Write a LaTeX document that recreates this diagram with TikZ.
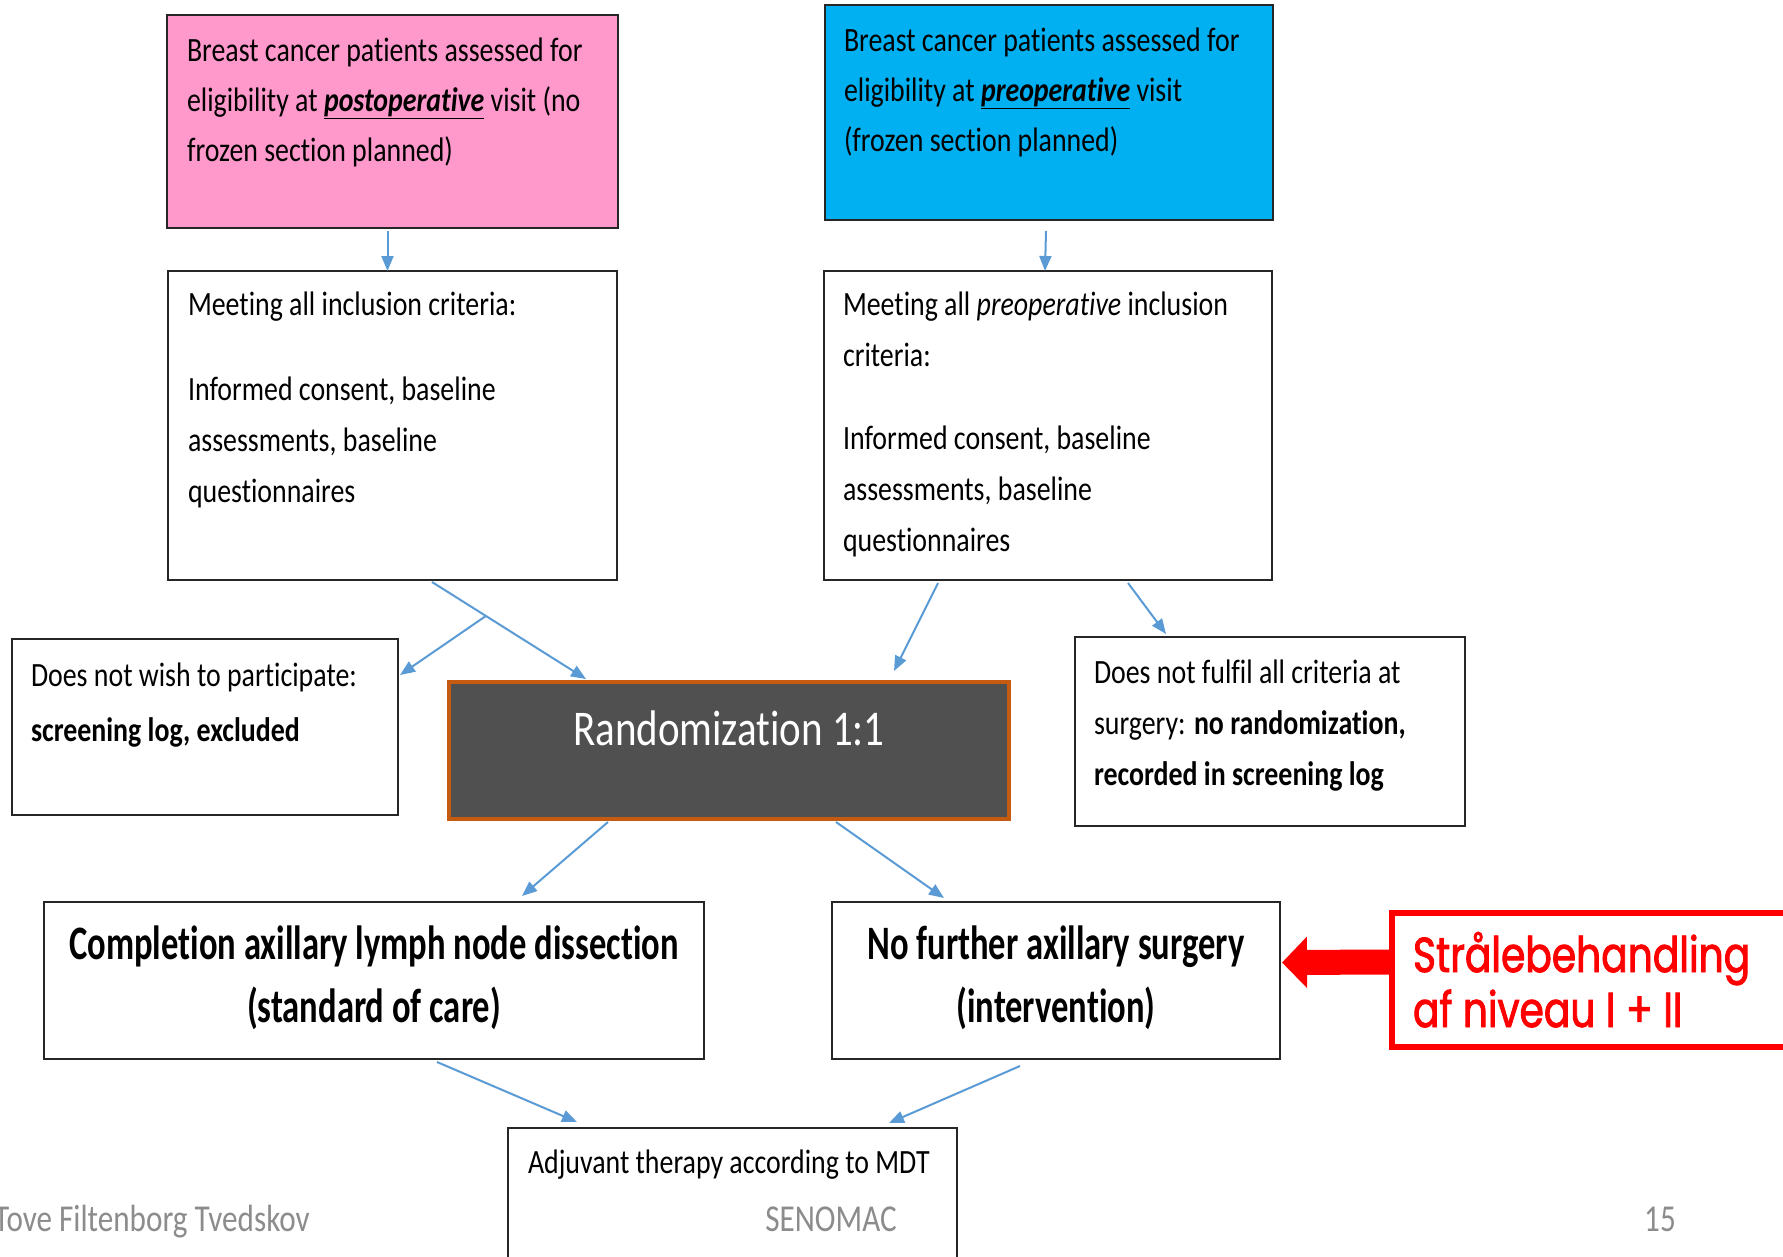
\documentclass[tikz,border=0pt]{standalone}
\usepackage{fontspec}
\setmainfont{Carlito}[FakeStretch=0.82, Ligatures=NoCommon]
\newfontfamily\boldcond{Carlito}[FakeStretch=0.72, Ligatures=NoCommon]
\newfontfamily\redfont{Poppins}[FakeStretch=0.80, FakeBold=1.8]
\usetikzlibrary{arrows.meta,calc}
\definecolor{pinkfill}{HTML}{FF99CC}
\definecolor{bluefill}{HTML}{00B0F0}
\definecolor{randfill}{HTML}{505050}
\definecolor{randedge}{HTML}{C55A11}
\definecolor{arrowblue}{HTML}{5B9BD5}
\definecolor{footgray}{HTML}{8C8C8C}
\definecolor{slidered}{HTML}{FF0000}
% #1 text width, #2 height, #3 first baseline offset, #4 text
\newcommand\tb[4]{\parbox[c][#2pt][t]{#1pt}{\raggedright\rule{0pt}{#3pt}#4}}
\newcommand\tc[4]{\parbox[c][#2pt][t]{#1pt}{\centering\rule{0pt}{#3pt}#4}}
\tikzset{
  flow/.style={draw=black!85, line width=2pt, anchor=north west, inner xsep=#1,
    inner ysep=0pt, outer sep=0pt, font=\fontsize{34}{51}\selectfont},
  flow/.default=20pt,
  link/.style={draw=arrowblue, line width=2pt, -{Triangle[length=15pt 0 0,width=12pt 0 0]}},
  foot/.style={inner sep=0pt, text=footgray, font=\fontsize{38}{40}\selectfont},
}
\begin{document}
\begin{tikzpicture}[x=1pt,y=-1pt]
\fill[white] (0,0) rectangle (1783,1256);
\useasboundingbox (0,0) rectangle (1783,1256);
\clip (0,0) rectangle (1783,1256);

% top boxes
\node[flow, fill=pinkfill, font=\fontsize{34}{50}\selectfont] (pink) at (167,15)
  {\tb{411}{213}{46}{Breast cancer patients assessed for\\
   eligibility at \textbf{\textit{\underline{postoperative}}} visit (no\\
   frozen section planned)}};
\node[flow=19pt, fill=bluefill, font=\fontsize{34}{50}\selectfont] (blue) at (825,5)
  {\tb{410}{215}{46}{Breast cancer patients assessed for\\
   eligibility at \textbf{\textit{\underline{preoperative}}} visit\\
   (frozen section planned)}};

% criteria boxes
\node[flow] (lcrit) at (168,271)
  {\tb{409}{309}{44}{Meeting all inclusion criteria:\\[34pt]
   Informed consent, baseline\\ assessments, baseline\\ questionnaires}};
\node[flow=19pt] (rcrit) at (824,271)
  {\tb{410}{309}{44}{Meeting all \textit{preoperative} inclusion\\ criteria:\\[32pt]
   Informed consent, baseline\\ assessments, baseline\\ questionnaires}};

% side boxes
\node[flow=19pt, font=\fontsize{34}{55}\selectfont] (dnw) at (12,639)
  {\tb{348}{176}{47}{Does not wish to participate:\\
   \textbf{screening log, excluded}}};
\node[flow=19pt] (dnf) at (1075,637)
  {\tb{352}{189}{46}{Does not fulfil all criteria at\\
   surgery: \textbf{no randomization,}\\ \textbf{recorded in screening log}}};

% randomization
\node[flow=0pt, draw=randedge, line width=4pt, fill=randfill, text=white,
  font=\fontsize{50}{55}\selectfont] (rand) at (449,682)
  {\tc{560}{137}{63}{Randomization 1:1}};

% arms
\node[flow=0pt, font=\boldcond\bfseries\fontsize{48}{63}\selectfont] (comp) at (44,902)
  {\tc{660}{157}{57}{Completion axillary lymph node dissection\\ (standard of care)}};
\node[flow=0pt, font=\boldcond\bfseries\fontsize{48}{63}\selectfont] (nofur) at (832,902)
  {\tc{448}{157}{57}{No further axillary surgery\\ (intervention)}};

% adjuvant
\node[flow] (adj) at (508,1128)
  {\tb{409}{200}{45}{Adjuvant therapy according to MDT}};

% red box
\node[flow=21pt, draw=slidered, line width=6pt, text=slidered,
  font=\redfont\fontsize{49}{55}\selectfont] (redbox) at (1392,913)
  {\tb{480}{134}{59}{Strålebehandling\\ af niveau I + II}};

% footer
\node[foot, anchor=base east] (author) at (310,1231) {Tove Filtenborg Tvedskov};
\node[foot, anchor=base] (title) at (831,1231) {SENOMAC};
\node[foot, anchor=base] (pageno) at (1660,1231) {15};

% connectors
\draw[link] ($(pink.south)+(-5,3)$) -- ($(lcrit.north)+(-5,0)$);
\draw[link] ($(blue.south)+(-3,11)$) -- ($(rcrit.north)+(-3,0)$);

\coordinate (ls) at ($(lcrit.south west)+(264,2)$);
\coordinate (le) at ($(rand.north west)+(137,-3)$);
\coordinate (lm) at ($(ls)!0.35!(le)$);
\draw[link] (ls) -- (le);
\draw[link] (lm) -- ($(dnw.north east)+(2,36)$);

\draw[link] ($(rcrit.south west)+(114,3)$) -- ($(rand.north west)+(445,-11)$);
\draw[link] ($(rcrit.south west)+(304,3)$) -- ($(dnf.north west)+(91,-3)$);
\draw[link] ($(rand.south west)+(159,3)$) -- ($(comp.north west)+(478,-6)$);
\draw[link] ($(rand.south west)+(387,3)$) -- ($(nofur.north west)+(112,-4)$);
\draw[link] ($(comp.south west)+(393,3)$) -- ($(adj.north west)+(69,-6)$);
\draw[link] ($(nofur.south west)+(188,7)$) -- ($(adj.north west)+(381,-5)$);

% red arrow
\draw[slidered, line width=25pt, -{Triangle[length=25pt 0 0,width=50pt 0 0]}]
  ([yshift=18pt]redbox.west) -- ([yshift=18pt,xshift=2pt]nofur.east);
\end{tikzpicture}
\end{document}
